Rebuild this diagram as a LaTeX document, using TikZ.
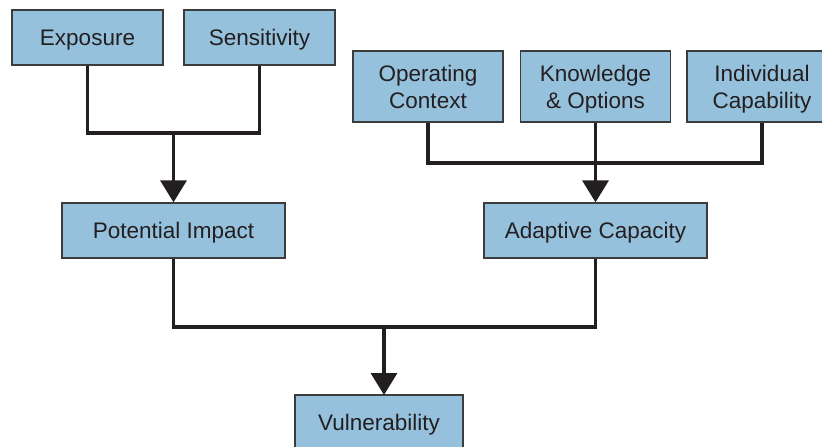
\documentclass[tikz,border=0pt]{standalone}
\usepackage{fontspec}
\setmainfont{Liberation Sans}
\usetikzlibrary{arrows.meta}
\definecolor{boxfill}{RGB}{149,193,220}
\definecolor{ink}{RGB}{35,31,32}
\definecolor{edge}{RGB}{60,60,60}
\tikzset{
  box/.style={draw=edge, line width=1.3pt, fill=boxfill, text=ink, inner sep=0pt,
    align=center, text depth=0pt, font=\fontsize{22.5}{27}\selectfont},
  smallbox/.style={box, minimum width=151pt, minimum height=55pt},
  tallbox/.style={box, minimum width=150pt, minimum height=71pt},
  widebox/.style={box, minimum width=223pt, minimum height=55pt},
  conn/.style={draw=ink, line width=3.5pt, line join=miter},
  arr/.style={conn, -{Triangle[width=26pt,length=22pt]}}
}
\begin{document}
\begin{tikzpicture}[x=1pt,y=-1pt]
\useasboundingbox (0,0) rectangle (822,447);
\clip (0,0) rectangle (822,447);
% nodes
\node[smallbox] (exp) at (87.5,37.5) {Exposure};
\node[smallbox] (sen) at (259.5,37.5) {Sensitivity};
\node[tallbox] (op) at (428,86.5) {Operating\\Context};
\node[tallbox] (kn) at (595.5,86.5) {Knowledge\\\& Options};
\node[tallbox] (ind) at (762,86.5) {Individual\\Capability};
\node[widebox] (pot) at (173.5,230.5) {Potential Impact};
\node[widebox] (adc) at (595.5,230.5) {Adaptive Capacity};
\node[box, minimum width=168pt, minimum height=55pt] (vul) at (379,422.5) {Vulnerability};
% junctions
\coordinate (j1) at (173.5,133);
\coordinate (j2) at (595.5,163);
\coordinate (j3) at (384,327);
\coordinate (v3) at (384,395);
% connectors
\draw[conn] (exp.south) |- (j1) -| (sen.south);
\draw[arr] (j1) -- (pot.north);
\draw[conn] (op.south) |- (j2) -| (ind.south);
\draw[arr] (kn.south) -- (adc.north);
\draw[conn] (pot.south) |- (j3) -| (adc.south);
\draw[arr] (j3) -- (v3);
\end{tikzpicture}
\end{document}
